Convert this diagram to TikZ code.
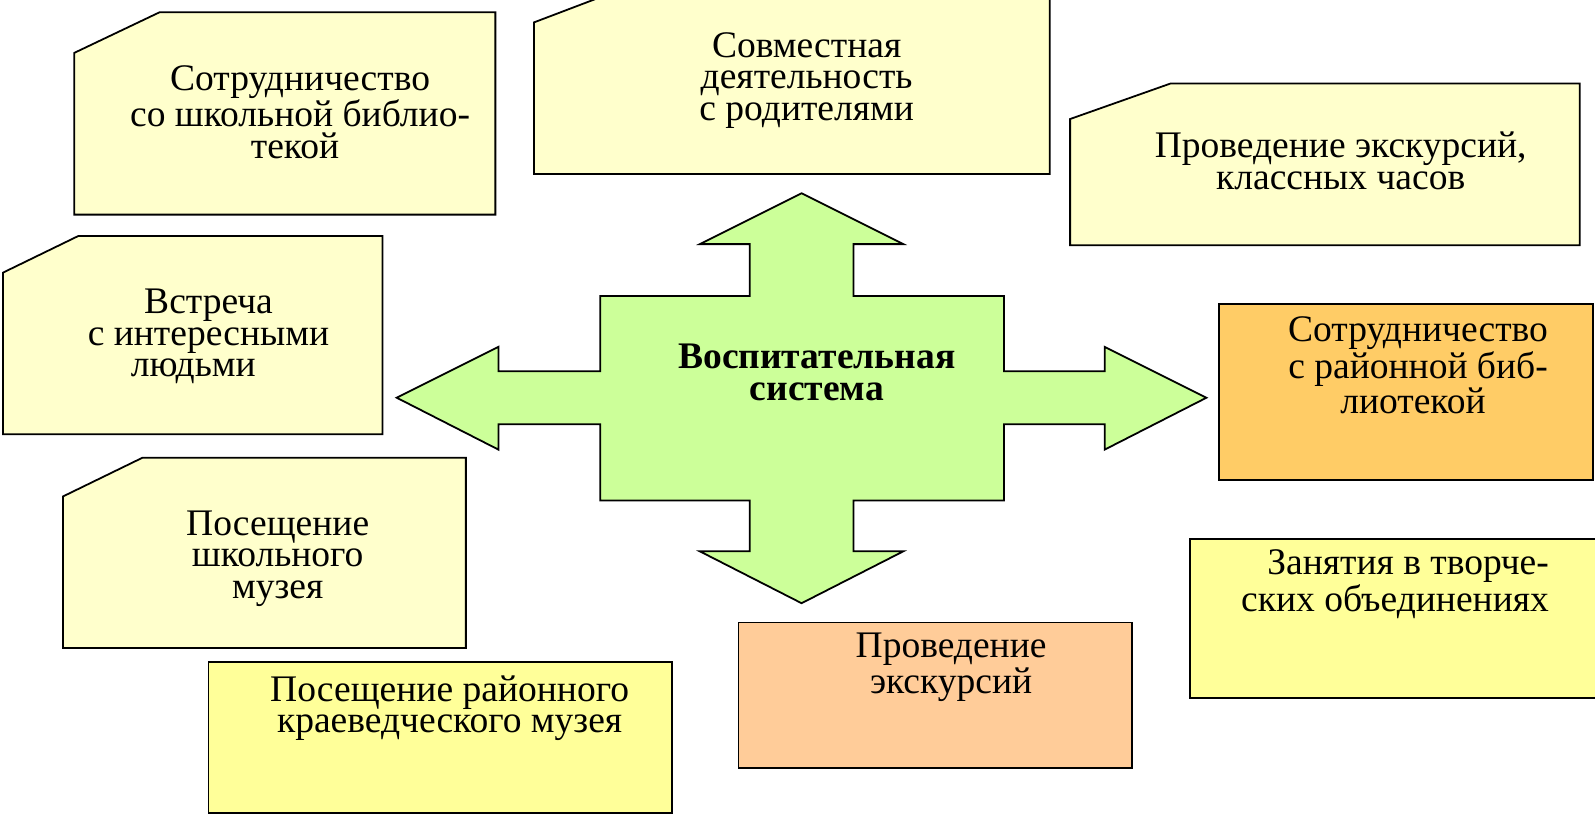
\documentclass[tikz,border=0pt]{standalone}
\usepackage{fontspec}
\setmainfont{Liberation Serif}
\usepackage{tikz}
\usetikzlibrary{positioning}

\definecolor{paleyellow}{HTML}{FFFFCC}
\definecolor{lemon}{HTML}{FFFF99}
\definecolor{peach}{HTML}{FFCC99}
\definecolor{apricot}{HTML}{FFCC66}
\definecolor{lightgreen}{HTML}{CCFF99}

\tikzset{
  card/.style={draw=black, line width=1pt, line join=miter},
  cardtext/.style={font=\fontsize{21}{17.6}\selectfont, align=center, inner sep=0pt},
}

\begin{document}
\begin{tikzpicture}[x=0.02cm, y=-0.02cm]
          \useasboundingbox (0,0) rectangle (1568,800);
          \clip (0,0) rectangle (1568,800);

          \draw[card, fill=paleyellow] (73,52) -- (157,12) -- (487,12) -- (487,211) -- (73,211) -- cycle;
          \draw[card, fill=paleyellow] (525,22) -- (604,-8) -- (1032,-8) -- (1032,171) -- (525,171) -- cycle;
          \draw[card, fill=paleyellow] (1052,117) -- (1151,82) -- (1553,82) -- (1553,241) -- (1052,241) -- cycle;
          \draw[card, fill=paleyellow] (3,268) -- (77,232) -- (376,232) -- (376,427) -- (3,427) -- cycle;
          \draw[card, fill=paleyellow] (62,488) -- (140,450) -- (458,450) -- (458,637) -- (62,637) -- cycle;

          \draw[card, fill=lemon] (205,651) rectangle (661,799);
          \draw[card, fill=peach] (726,612) rectangle (1113,755);
          \draw[card, fill=apricot] (1198,299) rectangle (1566,472);
          \draw[card, fill=lemon] (1170,530) rectangle (1580,686);

          \draw[card, fill=lightgreen] (788,190) -- (888,240) -- (839,240) -- (839,291) -- (987,291)
            -- (987,365) -- (1086,365) -- (1086,341) -- (1186,391) -- (1086,442) -- (1086,417)
            -- (987,417) -- (987,492) -- (839,492) -- (839,542) -- (888,542) -- (788,593)
            -- (688,542) -- (737,542) -- (737,492) -- (590,492) -- (590,417) -- (490,417)
            -- (490,442) -- (390,391) -- (490,341) -- (490,365) -- (590,365) -- (590,291)
            -- (737,291) -- (737,240) -- (688,240) -- cycle;

          \node[cardtext, font=\fontsize{21}{17.6}\selectfont\bfseries] (core) at (803,366) {Воспитательная\\ система};

          \node[cardtext] (schoollib) at (295,110) {Сотрудничество\\ со школьной библио-\\ текой\hspace*{0.2cm}};
          \node[cardtext] (parents) at (793,79) {Совместная\\ деятельность\\ с родителями};
          \node[cardtext] (classhours) at (1318,158) {Проведение экскурсий,\\ классных часов};
          \node[cardtext] (people) at (205,331) {Встреча\\ с интересными\\ людьми\hspace*{0.6cm}};
          \node[cardtext] (schoolmuseum) at (273,549) {Посещение\\ школьного\\ музея};
          \node[cardtext] (localmuseum) at (442,696) {Посещение районного\\ краеведческого музея};
          \node[cardtext] (tours) at (935,656) {Проведение\\ экскурсий};
          \node[cardtext] (districtlib) at (1394,359) {Сотрудничество\\ с районной биб-\\ лиотекой\hspace*{0.2cm}};
          \node[cardtext, align=right, anchor=east] (clubs) at (1523,574) {Занятия в творче-\\ ских объединениях};
        \end{tikzpicture}
\end{document}
